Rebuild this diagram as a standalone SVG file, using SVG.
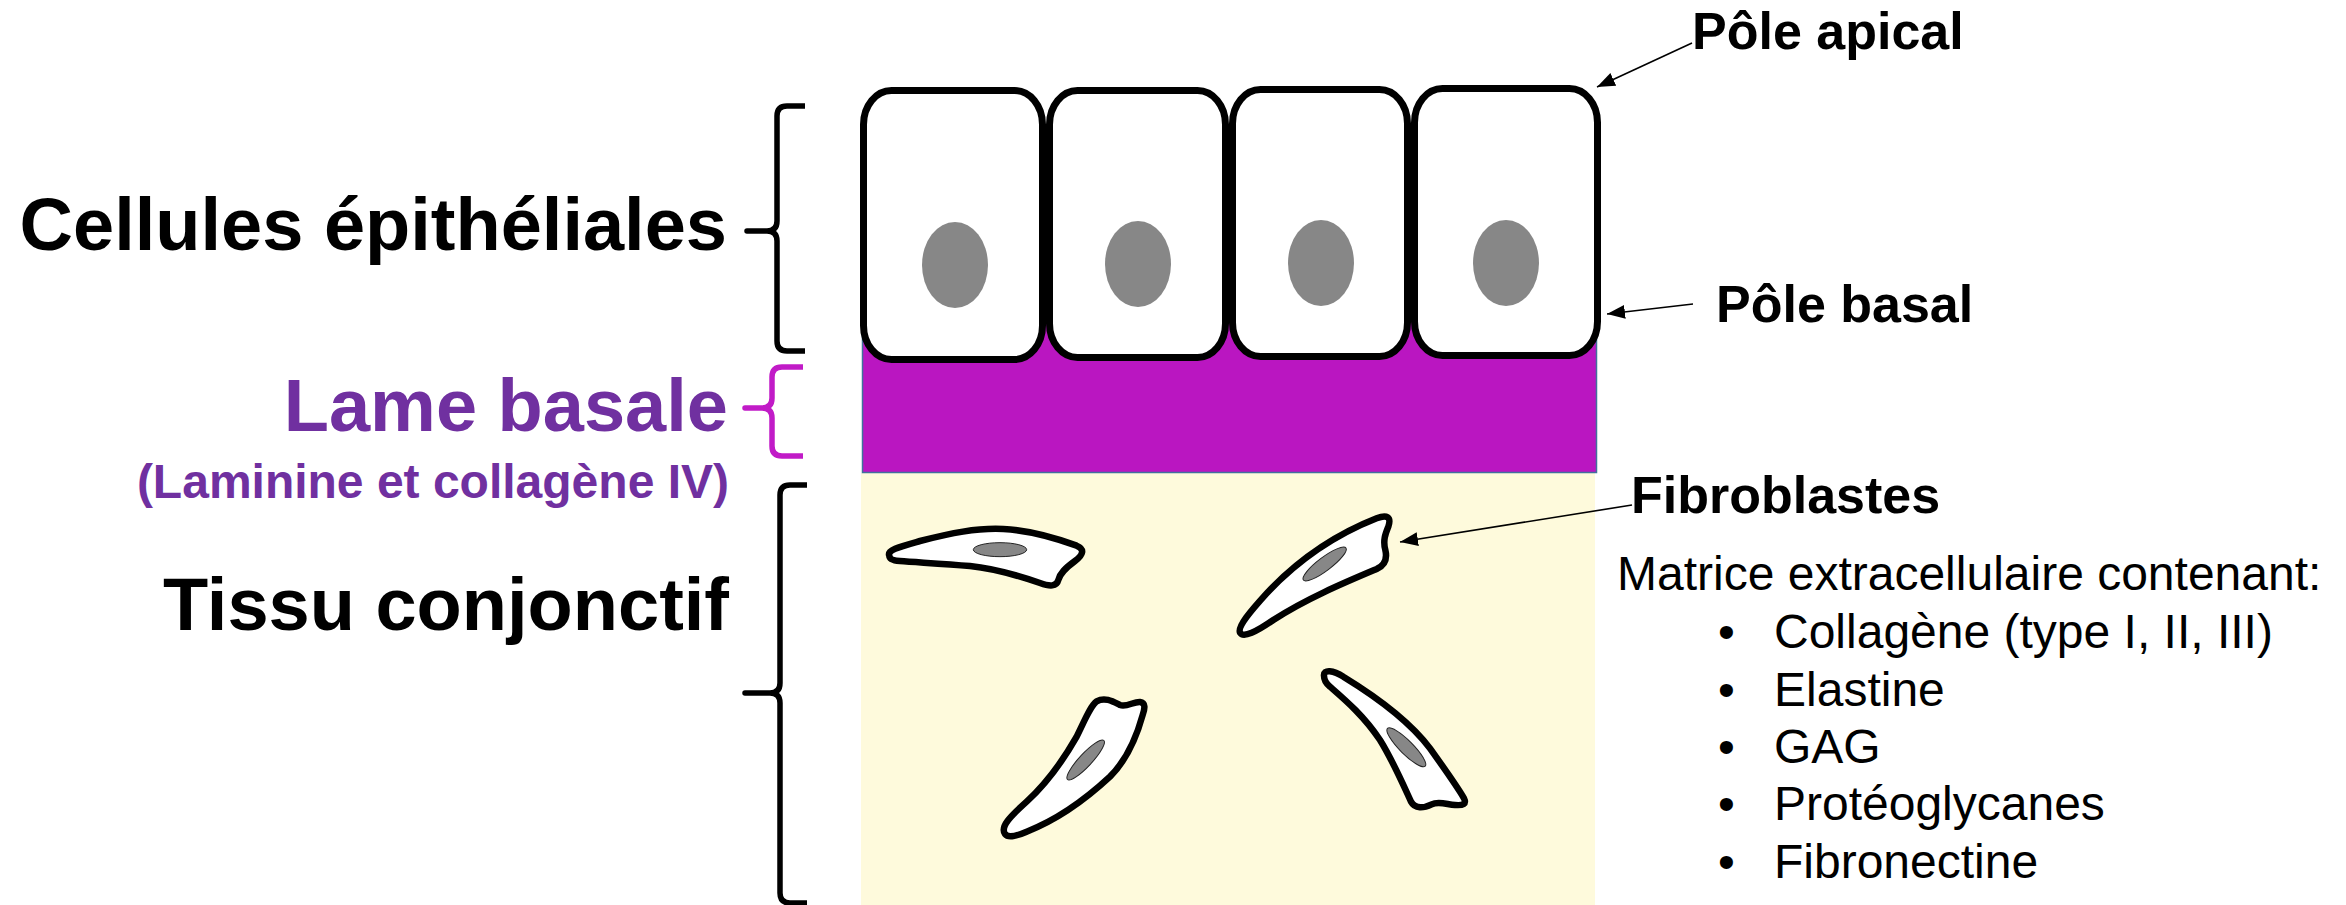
<svg xmlns="http://www.w3.org/2000/svg" width="2346" height="905" viewBox="0 0 2346 905">
  <defs>
    <style>
      .cell { fill: #ffffff; stroke: #000000; stroke-width: 7; }
      .nuc { fill: #878787; }
      .fib { fill: #ffffff; stroke: #000000; stroke-width: 19.5; stroke-linejoin: round; }
      .fnuc { fill: #878787; stroke: #222222; stroke-width: 3; }
      .brace { fill: none; stroke: #000000; stroke-width: 5.5; stroke-linejoin: round; }
      .brace-purple { fill: none; stroke: #C11BC7; stroke-width: 5.5; stroke-linejoin: round; }
      .title { font-family: "Liberation Sans", Arial, Helvetica, sans-serif; font-weight: bold; font-size: 74px; fill: #000000; }
      .purple { fill: #7030A0; }
      .pole { font-family: "Liberation Sans", Arial, Helvetica, sans-serif; font-weight: bold; font-size: 52px; fill: #000000; }
      .body { font-family: "Liberation Sans", Arial, Helvetica, sans-serif; font-size: 48px; fill: #000000; }
      .conn { fill: none; stroke: #000000; stroke-width: 1.6; marker-end: url(#head); }
    </style>
    <marker id="head" markerUnits="userSpaceOnUse" markerWidth="19" markerHeight="14" refX="18" refY="7" orient="auto">
      <path d="M0,0 L18,7 L0,14 Z" fill="#000000"/>
    </marker>
  </defs>

  <rect width="2346" height="905" fill="#ffffff"/>

  <!-- connective tissue background -->
  <g id="tissu-conjonctif-zone">
    <rect x="861" y="473" width="734" height="432" fill="#FEFADC"/>
  </g>

  <!-- basal lamina -->
  <g id="lame-basale-zone">
    <rect x="862.5" y="300" width="734" height="172.5" fill="#BA16C1" stroke="#41719C" stroke-width="1.5"/>
  </g>

  <!-- epithelial cells -->
  <g id="cellule-1">
    <rect class="cell" x="863.5" y="90.5" width="179" height="269" rx="28" ry="34"/>
    <ellipse class="nuc" cx="955" cy="265" rx="33" ry="43"/>
  </g>
  <g id="cellule-2">
    <rect class="cell" x="1049.5" y="90.5" width="176" height="267" rx="28" ry="34"/>
    <ellipse class="nuc" cx="1138" cy="264" rx="33" ry="43"/>
  </g>
  <g id="cellule-3">
    <rect class="cell" x="1232.5" y="89.5" width="175" height="267" rx="28" ry="34"/>
    <ellipse class="nuc" cx="1321" cy="263" rx="33" ry="43"/>
  </g>
  <g id="cellule-4">
    <rect class="cell" x="1414.5" y="88.5" width="183" height="267" rx="28" ry="34"/>
    <ellipse class="nuc" cx="1506" cy="263" rx="33" ry="43"/>
  </g>

  <!-- fibroblasts (drawn in a 3x local frame) -->
  <g id="fibroblaste-1" transform="translate(870 505) scale(0.33333)">
    <path class="fib" d="M58 152 C50 135 90 125 150 108 C240 85 320 68 400 72 C480 76 560 100 620 122 C645 132 640 150 615 168 C585 190 570 205 565 225 C560 245 540 245 510 234 C440 210 370 190 300 183 C220 176 140 172 90 168 C65 166 58 160 58 152 Z"/>
    <ellipse class="fnuc" cx="390" cy="134" rx="80" ry="21"/>
  </g>
  <g id="fibroblaste-2" transform="translate(1220 500) scale(0.33333)">
    <path class="fib" d="M60 398 C52 380 90 335 140 280 C220 195 330 110 470 55 C500 43 515 50 505 80 C497 100 488 120 496 150 C502 175 496 195 470 207 C380 245 260 295 160 360 C110 395 70 415 60 398 Z"/>
    <ellipse class="fnuc" cx="314" cy="192" rx="80" ry="20" transform="rotate(-37 314 192)"/>
  </g>
  <g id="fibroblaste-3" transform="translate(980 680) scale(0.33333)">
    <path class="fib" d="M75 462 C60 440 90 410 140 365 C200 310 250 240 290 170 C315 120 330 80 350 64 C375 50 400 65 420 75 C440 82 460 65 480 66 C497 68 495 85 488 105 C470 170 440 240 390 290 C320 355 230 420 140 455 C110 468 85 475 75 462 Z"/>
    <ellipse class="fnuc" cx="317" cy="240" rx="80" ry="19" transform="rotate(-47 317 240)"/>
  </g>
  <g id="fibroblaste-4" transform="translate(1300 655) scale(0.33333)">
    <path class="fib" d="M72 62 C70 42 100 45 130 65 C220 120 330 200 390 280 C440 350 475 400 492 430 C500 447 490 452 465 450 C440 448 415 438 395 448 C370 460 345 462 333 440 C310 390 280 320 240 255 C190 180 130 130 90 95 C78 85 72 72 72 62 Z"/>
    <ellipse class="fnuc" cx="319" cy="277" rx="80" ry="20" transform="rotate(45 319 277)"/>
  </g>

  <!-- braces -->
  <g id="accolade-cellules">
    <path class="brace" d="M805 106 H787 Q777 106 777 116 V221 Q777 231 767 231 H747 H767 Q777 231 777 241 V341 Q777 351 787 351 H805"/>
  </g>
  <g id="accolade-lame">
    <path class="brace-purple" d="M803 367 H782 Q772 367 772 377 V398 Q772 408 762 408 H745 H762 Q772 408 772 418 V446 Q772 456 782 456 H803"/>
  </g>
  <g id="accolade-tissu">
    <path class="brace" d="M807 485 H790 Q780 485 780 495 V683 Q780 693 770 693 H745 H770 Q780 693 780 703 V893 Q780 903 790 903 H807"/>
  </g>

  <!-- left labels -->
  <g id="label-cellules">
    <text class="title" x="727" y="250" text-anchor="end">Cellules épithéliales</text>
  </g>
  <g id="label-lame">
    <text class="title purple" x="728" y="431" text-anchor="end">Lame basale</text>
    <text class="title purple" x="729" y="498" text-anchor="end" style="font-size:48px">(Laminine et collagène IV)</text>
  </g>
  <g id="label-tissu">
    <text class="title" x="729" y="630" text-anchor="end">Tissu conjonctif</text>
  </g>

  <!-- right labels -->
  <g id="label-apical">
    <text class="pole" x="1692" y="49">Pôle apical</text>
  </g>
  <g id="label-basal">
    <text class="pole" x="1716" y="322">Pôle basal</text>
  </g>
  <g id="label-fibroblastes">
    <text class="pole" x="1631" y="513">Fibroblastes</text>
  </g>
  <g id="label-matrice">
    <text class="body" x="1617" y="590">Matrice extracellulaire contenant:</text>
    <text class="body" x="1718" y="648">•</text>
    <text class="body" x="1774" y="648">Collagène (type I, II, III)</text>
    <text class="body" x="1718" y="706">•</text>
    <text class="body" x="1774" y="706">Elastine</text>
    <text class="body" x="1718" y="763">•</text>
    <text class="body" x="1774" y="763">GAG</text>
    <text class="body" x="1718" y="820">•</text>
    <text class="body" x="1774" y="820">Protéoglycanes</text>
    <text class="body" x="1718" y="878">•</text>
    <text class="body" x="1774" y="878">Fibronectine</text>
  </g>

  <!-- connectors -->
  <g id="connecteurs">
    <line class="conn" x1="1692" y1="43" x2="1597" y2="87"/>
    <line class="conn" x1="1693" y1="304" x2="1607" y2="314"/>
    <line class="conn" x1="1632" y1="505" x2="1400" y2="542"/>
  </g>
</svg>
